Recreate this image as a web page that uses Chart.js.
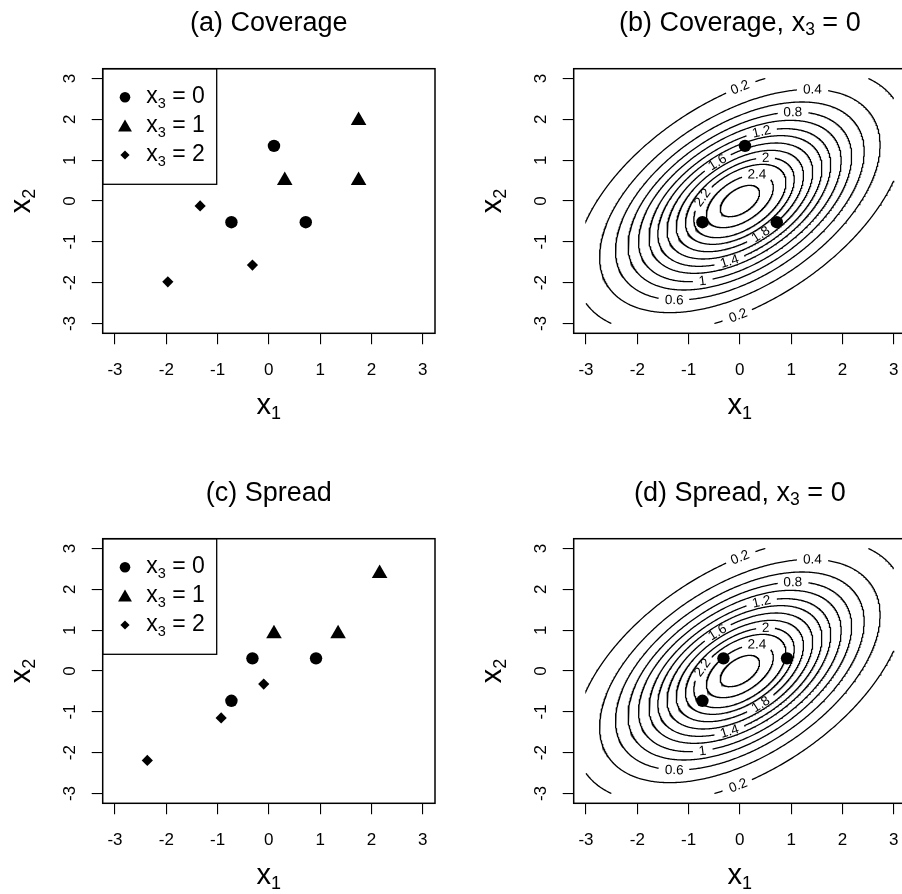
<!DOCTYPE html>
<html><head><meta charset="utf-8">
<script src="https://cdn.jsdelivr.net/npm/chart.js@4.4.1/dist/chart.umd.min.js"></script>
<style>
html,body{margin:0;padding:0;background:#fff;overflow:hidden;}
#wrap{position:relative;width:902px;height:894px;overflow:hidden;background:#fff;}
canvas{position:absolute;}
</style></head><body>
<div id="wrap">
<canvas id="pa" width="471" height="470" style="left:0;top:0"></canvas>
<canvas id="pb" width="471" height="470" style="left:471px;top:0"></canvas>
<canvas id="pc" width="471" height="470" style="left:0;top:470px"></canvas>
<canvas id="pd" width="471" height="470" style="left:471px;top:470px"></canvas>
</div>
<script>
// ---------------- data ----------------
const axisTicks = [-3, -2, -1, 0, 1, 2, 3];
const axisRange = [-3.24, 3.24];
const gridRange = [-3, 3];

// (a) Coverage design
const coverageX3eq0_x1 = [0.10, -0.73, 0.72];
const coverageX3eq0_x2 = [1.35, -0.52, -0.52];
const coverageX3eq1_x1 = [1.75, 0.31, 1.75];
const coverageX3eq1_x2 = [1.97, 0.50, 0.50];
const coverageX3eq2_x1 = [-1.34, -0.32, -1.97];
const coverageX3eq2_x2 = [-0.12, -1.57, -1.98];

// (c) Spread design
const spreadX3eq0_x1 = [-0.32, 0.92, -0.73];
const spreadX3eq0_x2 = [0.31, 0.31, -0.73];
const spreadX3eq1_x1 = [0.10, 1.35, 2.16];
const spreadX3eq1_x2 = [0.91, 0.91, 2.39];
const spreadX3eq2_x1 = [-0.10, -0.93, -2.37];
const spreadX3eq2_x2 = [-0.32, -1.15, -2.19];

// contour levels and their ellipse semi-axis along the x1 = x2 diagonal
const contourLevels        = [0.2, 0.4, 0.6, 0.8, 1.0, 1.2, 1.4, 1.6, 1.8, 2.0, 2.2, 2.4, 2.6];
const contourMajorSemiAxis = [3.94, 3.35, 2.97, 2.67, 2.42, 2.17, 1.96, 1.74, 1.52, 1.30, 1.10, 0.80, 0.47];
const contourAxisRatio = 0.577; // minor / major

// contour label positions
const contourLabelLevels = [0.2, 0.2, 0.4, 0.6, 0.8, 1.0, 1.2, 1.4, 1.6, 1.8, 2.0, 2.2, 2.4];
const contourLabelX1     = [0.00, -0.02, 1.42, -1.27, 1.04, -0.73, 0.42, -0.20, -0.43, 0.39, 0.50, -0.75, 0.33];
const contourLabelX2     = [2.76, -2.79, 2.72, -2.43, 2.16, -1.98, 1.67, -1.49, 0.94, -0.79, 1.06, 0.10, 0.53];

const legendValues = ['0', '1', '2'];
const titleA = '(a) Coverage';
const titleB = '(b) Coverage, ';
const titleC = '(c) Spread';
const titleD = '(d) Spread, ';

// ---------------- helpers ----------------
const FONT = '"Liberation Sans", Arial, Helvetica, sans-serif';
const font = s => s + 'px ' + FONT;
const zip = (a, b) => a.map((v, i) => ({x: v, y: b[i]}));

function richWidth(ctx, parts) {
  let w = 0;
  for (const p of parts) { ctx.font = font(p.size); w += ctx.measureText(p.t).width; }
  return w;
}
function drawRich(ctx, parts, x, y, align) {
  const w = richWidth(ctx, parts);
  let cx = align === 'center' ? x - w / 2 : x;
  ctx.textAlign = 'left'; ctx.textBaseline = 'alphabetic';
  for (const p of parts) {
    ctx.font = font(p.size);
    ctx.fillText(p.t, cx, y + (p.dy || 0));
    cx += ctx.measureText(p.t).width;
  }
}
function titleParts(txt, withX3) {
  const parts = [{t: txt, size: 27}];
  if (withX3) {
    parts[0].t = txt + 'x';
    parts.push({t: '3', size: 17.5, dy: 4.5});
    parts.push({t: ' = 0', size: 27});
  }
  return parts;
}

function drawSymbol(ctx, style, x, y, r) {
  ctx.beginPath();
  if (style === 'circle') {
    ctx.arc(x, y, r, 0, Math.PI * 2);
  } else if (style === 'triangle') {
    ctx.moveTo(x, y - r);
    ctx.lineTo(x + 0.866 * r, y + r / 2);
    ctx.lineTo(x - 0.866 * r, y + r / 2);
    ctx.closePath();
  } else {
    ctx.moveTo(x - r, y); ctx.lineTo(x, y - r); ctx.lineTo(x + r, y); ctx.lineTo(x, y + r);
    ctx.closePath();
  }
  ctx.fill();
}

// ellipse contour path, clipped to the evaluation grid
function ellipsePoint(a, t) {
  const b = a * contourAxisRatio;
  const u = a * Math.cos(t), v = b * Math.sin(t);
  return {x: (u - v) / Math.SQRT2, y: (u + v) / Math.SQRT2};
}
function insideGrid(p) {
  return p.x >= gridRange[0] && p.x <= gridRange[1] && p.y >= gridRange[0] && p.y <= gridRange[1];
}
function contourPath(a) {
  const N = 600, out = [];
  let prevT = 0, prevIn = insideGrid(ellipsePoint(a, 0));
  for (let i = 0; i <= N; i++) {
    const t = 2 * Math.PI * i / N;
    const p = ellipsePoint(a, t);
    const inn = insideGrid(p);
    if (i > 0 && inn !== prevIn) {
      let lo = prevT, hi = t;
      for (let k = 0; k < 40; k++) {
        const mid = (lo + hi) / 2;
        if (insideGrid(ellipsePoint(a, mid)) === prevIn) lo = mid; else hi = mid;
      }
      const q = ellipsePoint(a, prevIn ? lo : hi);
      if (prevIn) { out.push(q); out.push({x: null, y: null}); }
      else out.push(q);
    }
    if (inn) out.push(p);
    prevT = t; prevIn = inn;
  }
  return out;
}
function contourDatasets() {
  return contourLevels.map((lev, i) => ({
    data: contourPath(contourMajorSemiAxis[i]),
    showLine: true, borderColor: '#000', borderWidth: 1.3,
    pointRadius: 0, pointHoverRadius: 0, spanGaps: false, tension: 0, fill: false,
    label: 'c' + lev
  }));
}
function pointDataset(x1, x2, style, r) {
  return {
    data: zip(x1, x2), showLine: false,
    pointStyle: style, pointRadius: r, pointHoverRadius: r,
    pointBackgroundColor: '#000', pointBorderColor: '#000', pointBorderWidth: 0,
    backgroundColor: '#000', borderColor: '#000', borderWidth: 0
  };
}

// ---------------- panel plugin ----------------
const LABEL_SIZE = 13.5;
const panelPlugin = {
  id: 'panel',
  afterDatasetsDraw(chart) {
    const labels = chart.$contourLabels;
    if (!labels) return;
    const ctx = chart.ctx;
    ctx.save();
    ctx.fillStyle = '#000';
    ctx.font = font(LABEL_SIZE);
    ctx.textAlign = 'center'; ctx.textBaseline = 'middle';
    for (const l of labels) {
      ctx.save(); ctx.translate(l.px, l.py); ctx.rotate(l.ang);
      ctx.fillText(l.text, 0, 0.5);
      ctx.restore();
    }
    ctx.restore();
  },
  afterDraw(chart, args, opts) {
    const ctx = chart.ctx, ca = chart.chartArea, xs = chart.scales.x, ys = chart.scales.y;
    ctx.save();
    ctx.fillStyle = '#000'; ctx.strokeStyle = '#000';
    ctx.lineWidth = 1.5;
    ctx.strokeRect(ca.left, ca.top, ca.right - ca.left, ca.bottom - ca.top);
    // tick labels
    ctx.font = font(17); ctx.textAlign = 'center'; ctx.textBaseline = 'alphabetic';
    axisTicks.forEach(v => ctx.fillText(String(v), xs.getPixelForValue(v), ca.bottom + 41.7));
    axisTicks.forEach(v => {
      ctx.save(); ctx.translate(ca.left - 27.7, ys.getPixelForValue(v)); ctx.rotate(-Math.PI / 2);
      ctx.fillText(String(v), 0, 0); ctx.restore();
    });
    const cx = (ca.left + ca.right) / 2;
    drawRich(ctx, [{t: 'x', size: 29}, {t: '1', size: 18, dy: 4.5}], cx, ca.bottom + 81, 'center');
    ctx.save(); ctx.translate(ca.left - 72.7, (ca.top + ca.bottom) / 2); ctx.rotate(-Math.PI / 2);
    drawRich(ctx, [{t: 'x', size: 29}, {t: '2', size: 18, dy: 4.5}], 0, 0, 'center');
    ctx.restore();
    drawRich(ctx, opts.title, cx, ca.top - 38, 'center');
    if (opts.legend) {
      ctx.lineWidth = 1.3;
      ctx.strokeRect(ca.left, ca.top, 114, 115.6);
      const rows = [28.6, 57.3, 86.3];
      const styles = [['circle', 5.3, 0], ['triangle', 8, 1.5], ['rectRot', 4.6, 0]];
      rows.forEach((ry, i) => {
        const y = ca.top + ry;
        drawSymbol(ctx, styles[i][0], ca.left + 22.3, y + styles[i][2], styles[i][1]);
        drawRich(ctx, [{t: 'x', size: 23}, {t: '3', size: 14.5, dy: 5}, {t: ' = ' + legendValues[i], size: 23}],
          ca.left + 43.5, y + 5.8, 'left');
      });
    }
    ctx.restore();
  }
};

function makeChart(id, datasets, panelOpts) {
  const axis = (fit) => ({
    type: 'linear', min: axisRange[0], max: axisRange[1],
    afterFit: fit,
    afterBuildTicks: s => { s.ticks = axisTicks.map(v => ({value: v})); },
    ticks: {display: false},
    grid: {drawOnChartArea: false, drawTicks: true, tickLength: 11, color: '#000', tickColor: '#000', tickWidth: 1.1, lineWidth: 1.1},
    border: {display: false},
    title: {display: false}
  });
  return new Chart(document.getElementById(id), {
    type: 'scatter',
    data: {datasets},
    options: {
      responsive: false, animation: false, events: [],
      layout: {padding: {left: 0, top: 68.7, right: 36, bottom: 116.7}},
      scales: {
        x: axis(s => { s.height = 20; }),
        y: axis(s => { s.width = 102.7; })
      },
      plugins: {legend: {display: false}, tooltip: {enabled: false}, panel: panelOpts}
    },
    plugins: [panelPlugin]
  });
}

function addContourLabels(chart, firstContourIndex) {
  const xs = chart.scales.x, ys = chart.scales.y, ctx = chart.ctx;
  ctx.save(); ctx.font = font(LABEL_SIZE);
  const labels = [];
  const datas = contourLevels.map((lev, i) => chart.data.datasets[firstContourIndex + i].data.slice());
  const pix = p => ({px: xs.getPixelForValue(p.x), py: ys.getPixelForValue(p.y)});
  contourLabelLevels.forEach((lev, i) => {
    const li = contourLevels.indexOf(lev);
    const data = datas[li];
    const tx = xs.getPixelForValue(contourLabelX1[i]), ty = ys.getPixelForValue(contourLabelX2[i]);
    let best = -1, bd = Infinity;
    data.forEach((p, j) => {
      if (p.x === null) return;
      const q = pix(p); const d = (q.px - tx) ** 2 + (q.py - ty) ** 2;
      if (d < bd) { bd = d; best = j; }
    });
    const c = pix(data[best]);
    const pick = (j) => (data[j] && data[j].x !== null) ? pix(data[j]) : c;
    const a = pick(best - 3), b = pick(best + 3);
    let ang = Math.atan2(b.py - a.py, b.px - a.px);
    if (ang > Math.PI / 2) ang -= Math.PI;
    if (ang < -Math.PI / 2) ang += Math.PI;
    const text = String(lev);
    const half = ctx.measureText(text).width / 2 + 5.5;
    labels.push({text, px: c.px, py: c.py, ang});
    for (let j = 0; j < data.length; j++) {
      const p = data[j];
      if (p.x === null) continue;
      const q = pix(p);
      if ((q.px - c.px) ** 2 + (q.py - c.py) ** 2 < half * half) data[j] = {x: null, y: null};
    }
  });
  ctx.restore();
  datas.forEach((d, i) => { chart.data.datasets[firstContourIndex + i].data = d; });
  chart.$contourLabels = labels;
  chart.update('none');
}

// ---------------- charts ----------------
makeChart('pa', [
  pointDataset(coverageX3eq0_x1, coverageX3eq0_x2, 'circle', 6.2),
  pointDataset(coverageX3eq1_x1, coverageX3eq1_x2, 'triangle', 9),
  pointDataset(coverageX3eq2_x1, coverageX3eq2_x2, 'rectRot', 5.6)
], {title: titleParts(titleA, false), legend: true});

const chB = makeChart('pb', [
  pointDataset(coverageX3eq0_x1, coverageX3eq0_x2, 'circle', 6.2),
  ...contourDatasets()
], {title: titleParts(titleB, true), legend: false});
addContourLabels(chB, 1);

makeChart('pc', [
  pointDataset(spreadX3eq0_x1, spreadX3eq0_x2, 'circle', 6.2),
  pointDataset(spreadX3eq1_x1, spreadX3eq1_x2, 'triangle', 9),
  pointDataset(spreadX3eq2_x1, spreadX3eq2_x2, 'rectRot', 5.6)
], {title: titleParts(titleC, false), legend: true});

const chD = makeChart('pd', [
  pointDataset(spreadX3eq0_x1, spreadX3eq0_x2, 'circle', 6.2),
  ...contourDatasets()
], {title: titleParts(titleD, true), legend: false});
addContourLabels(chD, 1);
</script>
</body></html>
